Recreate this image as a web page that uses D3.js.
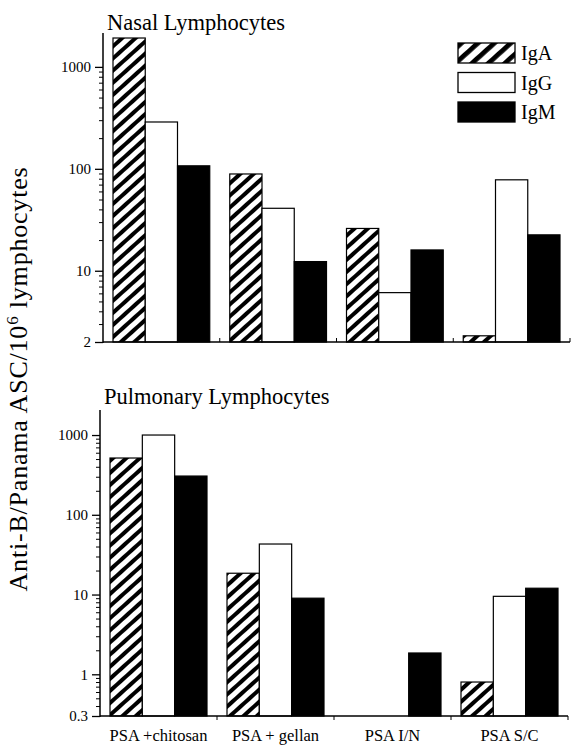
<!DOCTYPE html>
<html>
<head>
<meta charset="utf-8">
<script src="https://cdn.jsdelivr.net/npm/d3@7"></script>
<style>
  html, body { margin: 0; padding: 0; background: #fff; }
  svg { display: block; }
  text { font-family: "Liberation Serif", "Times New Roman", serif; fill: #000; }
</style>
</head>
<body>
<svg id="chart" width="571" height="745"></svg>
<script>
const categories = ["PSA +chitosan", "PSA + gellan", "PSA I/N", "PSA S/C"];
const seriesNames = ["IgA", "IgG", "IgM"];

// Nasal lymphocytes
const nasalIgA = [1920, 89, 26, 2.3];
const nasalIgG = [288, 41, 6.1, 78];
const nasalIgM = [107, 12.3, 16, 22.5];

// Pulmonary lymphocytes (null = no bar)
const pulmIgA = [515, 18.5, null, 0.8];
const pulmIgG = [1000, 43, null, 9.5];
const pulmIgM = [306, 9.0, 1.85, 12];

const nasalTicks = [2, 10, 100, 1000];
const pulmTicks = [0.3, 1, 10, 100, 1000];

const svg = d3.select("#chart");
const defs = svg.append("defs");

function hatch(id, period, width) {
  const p = defs.append("pattern")
    .attr("id", id)
    .attr("patternUnits", "userSpaceOnUse")
    .attr("width", period).attr("height", period)
    .attr("patternTransform", "rotate(48)");
  p.append("rect").attr("width", period).attr("height", period).attr("fill", "#fff");
  p.append("rect").attr("x", 0).attr("y", 0).attr("width", width).attr("height", period).attr("fill", "#000");
}
hatch("hatch", 9, 4);
hatch("hatchLegend", 11, 4.8);

const fills = { IgA: "url(#hatch)", IgG: "#fff", IgM: "#000" };

function panel(cfg) {
  const g = svg.append("g");
  const y = d3.scaleLog().domain(cfg.domain).range([cfg.bottom, cfg.top]);
  const x0 = d3.scaleBand().domain(categories).range([cfg.left, cfg.right]).padding(0);
  const x1 = d3.scaleBand().domain(seriesNames).range([10, x0.bandwidth() - 10]).padding(0);

  const rows = [];
  categories.forEach((c, i) => {
    seriesNames.forEach((s, j) => {
      const v = cfg.values[j][i];
      if (v != null) rows.push({ c, s, v });
    });
  });

  g.selectAll("rect.bar").data(rows).enter().append("rect")
    .attr("class", "bar")
    .attr("x", d => x0(d.c) + x1(d.s))
    .attr("width", x1.bandwidth())
    .attr("y", d => y(d.v))
    .attr("height", d => cfg.bottom - y(d.v))
    .attr("fill", d => fills[d.s])
    .attr("stroke", "#000")
    .attr("stroke-width", 1.2);

  // Y axis
  const yAxis = d3.axisLeft(y)
    .tickValues(cfg.ticks)
    .tickFormat(d => String(d))
    .tickSize(8)
    .tickPadding(4);
  const ya = g.append("g").attr("transform", `translate(${cfg.left},0)`).call(yAxis);
  ya.select(".domain").remove();
  ya.selectAll("text").style("font-size", "15px").style("font-family", "Liberation Serif, serif");
  ya.selectAll("line").attr("stroke", "#000").attr("stroke-width", 1.3);

  // Minor ticks
  const minor = [];
  const lo = Math.floor(Math.log10(cfg.domain[0]));
  const hi = Math.ceil(Math.log10(cfg.domain[1]));
  for (let e = lo; e <= hi; e++) {
    for (let m = 2; m <= 9; m++) {
      const v = m * Math.pow(10, e);
      if (v > cfg.domain[0] && v < cfg.domain[1] * 0.6 && !cfg.ticks.includes(v)) minor.push(v);
    }
  }
  const yMinor = d3.axisLeft(y).tickValues(minor).tickSize(4).tickFormat("");
  const ym = g.append("g").attr("transform", `translate(${cfg.left},0)`).call(yMinor);
  ym.select(".domain").remove();
  ym.selectAll("line").attr("stroke", "#000").attr("stroke-width", 1);

  // axis lines
  g.append("line").attr("x1", cfg.left).attr("x2", cfg.left)
    .attr("y1", cfg.top).attr("y2", cfg.bottom + 1)
    .attr("stroke", "#000").attr("stroke-width", 1.5);
  g.append("line").attr("x1", cfg.left).attr("x2", cfg.right)
    .attr("y1", cfg.bottom).attr("y2", cfg.bottom)
    .attr("stroke", "#000").attr("stroke-width", 1.5);

  // X boundary ticks
  const bounds = categories.slice(1).map(c => x0(c)).concat([cfg.right]);
  g.selectAll("line.xt").data(bounds).enter().append("line")
    .attr("x1", d => d).attr("x2", d => d)
    .attr("y1", cfg.bottom).attr("y2", cfg.bottom + cfg.xTickDir * 4)
    .attr("stroke", "#000").attr("stroke-width", 1);

  if (cfg.showLabels) {
    g.selectAll("text.xl").data(categories).enter().append("text")
      .attr("x", d => x0(d) + x0.bandwidth() / 2)
      .attr("y", cfg.bottom + 25)
      .attr("text-anchor", "middle")
      .style("font-size", "16.5px")
      .text(d => d);
  }

  g.append("text").attr("x", cfg.titleX).attr("y", cfg.titleY)
    .style("font-size", "22.5px").text(cfg.title);
}

panel({
  title: "Nasal Lymphocytes", titleX: 107, titleY: 30,
  domain: [2, 2150], ticks: nasalTicks,
  top: 33, bottom: 342, left: 103, right: 570,
  values: [nasalIgA, nasalIgG, nasalIgM],
  xTickDir: -1, showLabels: false
});

panel({
  title: "Pulmonary Lymphocytes", titleX: 104, titleY: 404,
  domain: [0.3, 2060], ticks: pulmTicks,
  top: 410, bottom: 716, left: 100, right: 568,
  values: [pulmIgA, pulmIgG, pulmIgM],
  xTickDir: 1, showLabels: true
});

// Legend
const legend = svg.append("g").attr("transform", "translate(458,43)");
const legFills = { IgA: "url(#hatchLegend)", IgG: "#fff", IgM: "#000" };
seriesNames.forEach((s, i) => {
  const row = legend.append("g").attr("transform", `translate(0,${i * 29.5})`);
  row.append("rect").attr("width", 57).attr("height", 20)
    .attr("fill", legFills[s]).attr("stroke", "#000").attr("stroke-width", 1.3);
  row.append("text").attr("x", 63).attr("y", 17).style("font-size", "20px").text(s);
});

// Y label
const yl = svg.append("text")
  .attr("transform", "translate(27,0) rotate(-90)")
  .attr("x", 0).attr("y", 0)
  .attr("text-anchor", "start")
  .style("font-size", "26px")
  .style("letter-spacing", "0.8px");
yl.append("tspan").text("Anti-B/Panama ASC/10");
yl.append("tspan").attr("dy", -9).style("font-size", "17px").text("6");
yl.append("tspan").attr("dy", 9).text(" lymphocytes");
// center label along the axis between y=168 and y=590
const len = yl.node().getComputedTextLength();
const centerY = 379;
yl.attr("x", -(centerY + len / 2));
</script>
</body>
</html>
